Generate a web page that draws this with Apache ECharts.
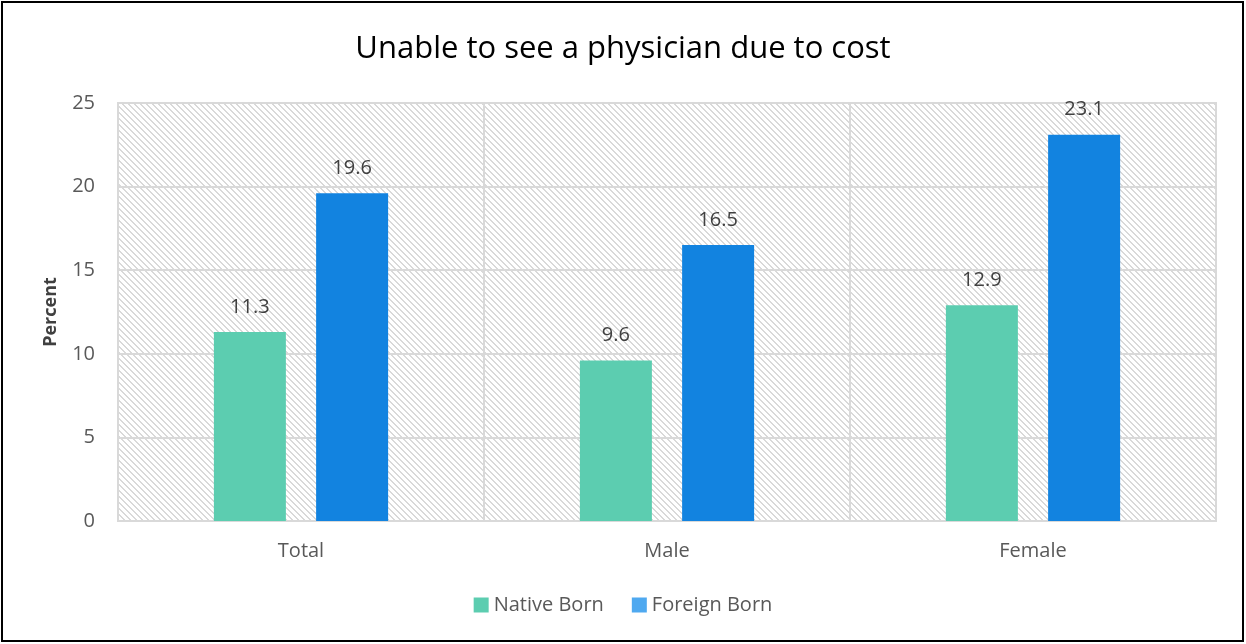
<!DOCTYPE html>
<html>
<head>
<meta charset="utf-8">
<script src="https://cdn.jsdelivr.net/npm/echarts@6/dist/echarts.min.js"></script>
<style>
  html, body { margin: 0; padding: 0; background: #fff; }
  #chart { width: 1246px; height: 644px; }
</style>
</head>
<body>
<div id="chart"></div>
<script>
const categories = ['Total', 'Male', 'Female'];
const nativeBorn = [11.3, 9.6, 12.9];
const foreignBorn = [19.6, 16.5, 23.1];
const seriesNames = ['Native Born', 'Foreign Born'];
const titleText = 'Unable to see a physician due to cost';
const yAxisName = 'Percent';

// Diagonal dotted hatch tile for the plot background
function hatchTile() {
  const size = 6;
  const c = document.createElement('canvas');
  c.width = size; c.height = size;
  const ctx = c.getContext('2d');
  ctx.fillStyle = '#ffffff';
  ctx.fillRect(0, 0, size, size);
  ctx.fillStyle = '#d9d9d9';
  for (let i = 0; i < size; i++) {
    ctx.fillRect(i, i, 1, 1);
    if (i + 1 < size) ctx.fillRect(i + 1, i, 1, 1);
  }
  ctx.fillRect(0, size - 1, 1, 1);
  return c;
}

const chart = echarts.init(document.getElementById('chart'), null, { renderer: 'canvas' });
const labelStyle = {
  show: true, position: 'top', distance: 15,
  fontFamily: 'Open Sans', fontSize: 20, color: '#404040'
};

chart.setOption({
  animation: false,
  backgroundColor: '#ffffff',
  title: {
    text: titleText, left: 'center', top: 29,
    textStyle: { fontFamily: 'Open Sans', fontSize: 31, fontWeight: 'normal', color: '#000000' }
  },
  graphic: [{
    type: 'rect', silent: true, z: 100,
    shape: { x: 2, y: 2, width: 1241, height: 639 },
    style: { fill: 'none', stroke: '#000000', lineWidth: 2 }
  }],
  legend: {
    bottom: 24, left: 'center', itemWidth: 15, itemHeight: 15, itemGap: 28,
    icon: 'rect',
    textStyle: { fontFamily: 'Open Sans', fontSize: 20, color: '#595959' },
    data: [
      { name: seriesNames[0], itemStyle: { color: '#5ccdb0' } },
      { name: seriesNames[1], itemStyle: { color: '#4fa9f0' } }
    ]
  },
  grid: {
    left: 118, right: 30, top: 103, bottom: 123,
    show: true, borderColor: '#d9d9d9', borderWidth: 2,
    backgroundColor: { image: hatchTile(), repeat: 'repeat' }
  },
  xAxis: {
    type: 'category', data: categories,
    axisLine: { show: true, lineStyle: { color: '#d9d9d9', width: 2 } },
    axisTick: { show: false },
    splitLine: { show: true, lineStyle: { color: '#d9d9d9', width: 2 } },
    axisLabel: { fontFamily: 'Open Sans', fontSize: 20, color: '#595959', margin: 20 }
  },
  yAxis: {
    type: 'value', min: 0, max: 25, interval: 5,
    name: yAxisName, nameLocation: 'middle', nameGap: 58, nameRotate: 90,
    nameTextStyle: { fontFamily: 'Open Sans', fontSize: 18, fontWeight: 'bold', color: '#404040' },
    axisLine: { show: false }, axisTick: { show: false },
    splitLine: { lineStyle: { color: '#d9d9d9', width: 2 } },
    axisLabel: { fontFamily: 'Open Sans', fontSize: 20, color: '#595959', margin: 23 }
  },
  series: [
    {
      name: seriesNames[0], type: 'bar', data: nativeBorn,
      barWidth: 72, barGap: '42%',
      itemStyle: { color: '#5ccdb0' }, label: labelStyle
    },
    {
      name: seriesNames[1], type: 'bar', data: foreignBorn,
      barWidth: 72,
      itemStyle: { color: '#1283e0' }, label: labelStyle
    }
  ]
});
</script>
</body>
</html>
